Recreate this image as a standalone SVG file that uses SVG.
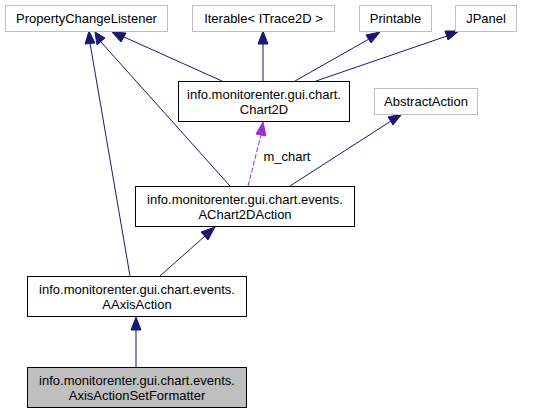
<svg xmlns="http://www.w3.org/2000/svg" width="535" height="413" viewBox="0 0 535 413">
<style>
text{font-family:"Liberation Sans",Arial,sans-serif;font-size:13px;fill:#000;text-anchor:middle}
.ext{fill:#fff;stroke:#bfbfbf;stroke-width:1}
.int{fill:#fff;stroke:#000;stroke-width:1}
.cur{fill:#bfbfbf;stroke:#000;stroke-width:1}
.e{stroke:#191970;stroke-width:1;fill:none}
.d{stroke:#9a32cd;stroke-width:1;fill:none;stroke-dasharray:5,2}
.ah{fill:#191970;stroke:#191970}
.ahd{fill:#9a32cd;stroke:#9a32cd}
</style>
<rect width="535" height="413" fill="#fff"/>
<g id="edges">
<line class="e" x1="130" y1="276" x2="90" y2="43"/>
<polygon class="ah" points="85,44 89,31 95,43"/>
<line class="e" x1="230" y1="186" x2="101" y2="42"/>
<polygon class="ah" points="97,45 95,32 105,38"/>
<line class="e" x1="222" y1="81" x2="124" y2="37"/>
<polygon class="ah" points="121,42 112,32 126,33"/>
<line class="e" x1="263" y1="81" x2="263" y2="44"/>
<polygon class="ah" points="258,44 263,31 268,44"/>
<line class="e" x1="295" y1="81" x2="369" y2="39"/>
<polygon class="ah" points="366,35 380,32 371,43"/>
<line class="e" x1="316" y1="81" x2="447" y2="36"/>
<polygon class="ah" points="445,31 459,31 448,40"/>
<line class="e" x1="290" y1="186" x2="391" y2="121"/>
<polygon class="ah" points="388,117 402,114 393,125"/>
<line class="d" x1="248" y1="186" x2="261" y2="135"/>
<polygon class="ahd" points="256,134 263,122 266,136"/>
<line class="e" x1="160" y1="276" x2="205" y2="236"/>
<polygon class="ah" points="201,232 215,227 208,240"/>
<line class="e" x1="136" y1="367" x2="136" y2="330"/>
<polygon class="ah" points="131,330 136,317 141,330"/>
<text x="287" y="161">m_chart</text>
</g>
<g id="PropertyChangeListener"><rect class="ext" x="5.5" y="5.5" width="162" height="26"/><text x="86.5" y="23">PropertyChangeListener</text></g>
<g id="Iterable"><rect class="ext" x="192.5" y="5.5" width="142" height="26"/><text x="263.5" y="23">Iterable&lt; ITrace2D &gt;</text></g>
<g id="Printable"><rect class="ext" x="359.5" y="5.5" width="72" height="26"/><text x="395.5" y="23">Printable</text></g>
<g id="JPanel"><rect class="ext" x="455.5" y="5.5" width="61" height="26"/><text x="486" y="23">JPanel</text></g>
<g id="Chart2D"><rect class="int" x="178.5" y="81.5" width="171" height="40"/><text x="264" y="99">info.monitorenter.gui.chart.</text><text x="264" y="114">Chart2D</text></g>
<g id="AbstractAction"><rect class="ext" x="374.5" y="88.5" width="103" height="26"/><text x="426" y="106">AbstractAction</text></g>
<g id="AChart2DAction"><rect class="int" x="135.5" y="186.5" width="219" height="40"/><text x="245" y="204">info.monitorenter.gui.chart.events.</text><text x="245" y="219">AChart2DAction</text></g>
<g id="AAxisAction"><rect class="int" x="27.5" y="276.5" width="219" height="40"/><text x="137" y="294">info.monitorenter.gui.chart.events.</text><text x="137" y="309">AAxisAction</text></g>
<g id="AxisActionSetFormatter"><rect class="cur" x="27.5" y="367.5" width="219" height="40"/><text x="137" y="385">info.monitorenter.gui.chart.events.</text><text x="137" y="400">AxisActionSetFormatter</text></g>
</svg>
